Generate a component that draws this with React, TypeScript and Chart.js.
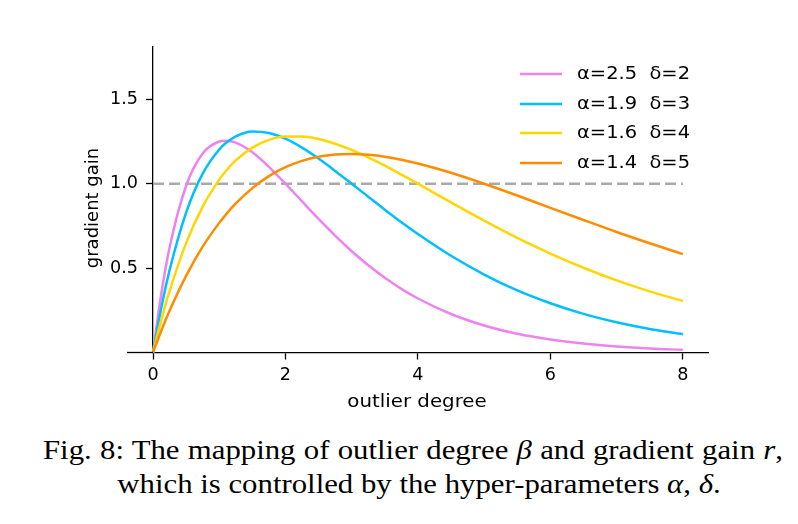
import React, { useEffect, useRef } from "react";
import { Chart, registerables } from "chart.js";

Chart.register(...registerables);

// outlier degree (x)
const betaValues = [0, 0.125, 0.25, 0.5, 0.75, 1, 1.1, 1.25, 1.5, 1.75, 2, 2.25, 2.5, 2.75, 3, 3.25, 3.5, 3.75, 4, 4.5, 5, 5.5, 6, 6.5, 7, 7.5, 8];
// gradient gain for each (alpha, delta)
const gainA25D2 = [0, 0.348, 0.621, 0.988, 1.179, 1.25, 1.255, 1.243, 1.186, 1.1, 1.0, 0.895, 0.791, 0.692, 0.6, 0.517, 0.443, 0.377, 0.32, 0.228, 0.16, 0.111, 0.077, 0.053, 0.036, 0.024, 0.016];
const gainA19D3 = [0, 0.264, 0.487, 0.829, 1.06, 1.203, 1.241, 1.281, 1.31, 1.301, 1.267, 1.214, 1.149, 1.076, 1.0, 0.923, 0.846, 0.772, 0.702, 0.573, 0.462, 0.368, 0.292, 0.229, 0.179, 0.139, 0.108];
const gainA16D4 = [0, 0.193, 0.364, 0.648, 0.864, 1.024, 1.075, 1.138, 1.214, 1.26, 1.28, 1.28, 1.265, 1.237, 1.2, 1.156, 1.107, 1.054, 1.0, 0.889, 0.781, 0.679, 0.586, 0.502, 0.427, 0.362, 0.305];
const gainA14D5 = [0, 0.129, 0.247, 0.454, 0.627, 0.768, 0.817, 0.883, 0.974, 1.045, 1.098, 1.135, 1.16, 1.173, 1.176, 1.171, 1.16, 1.142, 1.12, 1.065, 1.0, 0.93, 0.857, 0.785, 0.714, 0.647, 0.583];
const seriesLabels = ["α=2.5  δ=2", "α=1.9  δ=3", "α=1.6  δ=4", "α=1.4  δ=5"];
const seriesColors = ["#EE82EE", "#00BFFF", "#FFD700", "#FF8C00"];
const referenceLine = [1.0, 1.0];
const referenceX = [0, 8];
const xTicks = [0, 2, 4, 6, 8];
const yTicks = [0.5, 1.0, 1.5];
const xTitle = "outlier degree";
const yTitle = "gradient gain";

const FONT = '"DejaVu Sans"';
const STRETCH = 1.1;

function stretchedText(ctx: any, text: string, x: number, y: number, align: string) {
  ctx.save();
  ctx.translate(x, y);
  ctx.scale(STRETCH, 1);
  ctx.textAlign = align;
  ctx.fillText(text, 0, 0);
  ctx.restore();
}

const overlayPlugin = {
  id: "overlay",
  afterDraw(chart: any) {
    const ctx = chart.ctx;
    const area = chart.chartArea;
    // extend x axis spine to the left of the y axis
    ctx.save();
    ctx.strokeStyle = "#000";
    ctx.lineWidth = 1.3;
    ctx.beginPath();
    ctx.moveTo(127, area.bottom);
    ctx.lineTo(area.left, area.bottom);
    ctx.stroke();
    ctx.restore();

    // y axis title
    ctx.save();
    ctx.font = `18px ${FONT}`;
    ctx.fillStyle = "#000";
    ctx.translate(93, 208);
    ctx.rotate(-Math.PI / 2);
    ctx.textAlign = "center";
    ctx.textBaseline = "middle";
    ctx.fillText(yTitle, 0, 0);
    ctx.restore();

    // x axis title
    ctx.save();
    ctx.font = `18px ${FONT}`;
    ctx.fillStyle = "#000";
    ctx.textBaseline = "middle";
    stretchedText(ctx, xTitle, 417, 402, "center");
    ctx.restore();

    // legend
    ctx.save();
    ctx.font = `17.7px ${FONT}`;
    ctx.textBaseline = "middle";
    const rows = [74, 104, 133, 163];
    chart.data.datasets.forEach((ds: any, i: number) => {
      if (ds.isRef) return;
      const y = rows[i];
      ctx.strokeStyle = ds.borderColor;
      ctx.lineWidth = 2.5;
      ctx.beginPath();
      ctx.moveTo(520, y);
      ctx.lineTo(562, y);
      ctx.stroke();
      ctx.fillStyle = "#000";
      stretchedText(ctx, ds.label, 577, y, "left");
    });
    ctx.restore();
  },
};

export default function App() {
  const ref = useRef<HTMLCanvasElement | null>(null);
  useEffect(() => {
    if (!ref.current) return;
    const curves = [gainA25D2, gainA19D3, gainA16D4, gainA14D5];
    const datasets: any[] = curves.map((vals, i) => ({
      label: seriesLabels[i],
      data: betaValues.map((b, j) => ({ x: b, y: vals[j] })),
      borderColor: seriesColors[i],
      backgroundColor: seriesColors[i],
      borderWidth: 2.5,
      pointRadius: 0,
      fill: false,
      cubicInterpolationMode: "monotone",
      order: 4 - i,
    }));
    datasets.push({
      label: "ref",
      isRef: true,
      data: referenceX.map((x, j) => ({ x, y: referenceLine[j] })),
      borderColor: "#AAAAAA",
      borderWidth: 2.5,
      borderDash: [11, 5],
      pointRadius: 0,
      fill: false,
      order: 10,
    });
    const chart = new Chart(ref.current, {
      type: "line",
      data: { datasets },
      plugins: [overlayPlugin],
      options: {
        animation: false,
        responsive: false,
        clip: false,
        layout: { padding: { left: 0, right: 90, top: 47, bottom: 0 } },
        plugins: { legend: { display: false }, tooltip: { enabled: false } },
        scales: {
          x: {
            type: "linear",
            position: "bottom",
            min: 0,
            max: 8.38,
            afterBuildTicks: (s: any) => {
              s.ticks = xTicks.map((v) => ({ value: v }));
            },
            afterFit: (s: any) => {
              s.height = 77.5;
            },
            ticks: {
              color: "#000",
              font: { family: FONT, size: 17.6 },
              padding: 5,
              maxRotation: 0,
              autoSkip: false,
              callback: (v: any) => String(v),
            },
            grid: { drawOnChartArea: false, drawTicks: true, tickLength: 7, color: "#000", tickWidth: 1.3 },
            border: { display: true, color: "#000", width: 1.3 },
          },
          y: {
            type: "linear",
            position: "left",
            min: 0,
            max: 1.81,
            afterBuildTicks: (s: any) => {
              s.ticks = yTicks.map((v) => ({ value: v }));
            },
            afterFit: (s: any) => {
              s.width = 153;
            },
            ticks: {
              color: "#000",
              font: { family: FONT, size: 17.6 },
              padding: 8,
              autoSkip: false,
              callback: (v: any) => Number(v).toFixed(1),
            },
            grid: { drawOnChartArea: false, drawTicks: true, tickLength: 7, color: "#000", tickWidth: 1.3 },
            border: { display: true, color: "#000", width: 1.3 },
          },
        },
      } as any,
    });
    return () => chart.destroy();
  }, []);

  const serif = '"Liberation Serif", "Times New Roman", serif';
  const capScale = 1.14;
  return (
    <div style={{ position: "absolute", left: 0, top: 0, width: 798, height: 524, background: "#fff" }}>
      <canvas ref={ref} width={798} height={430} style={{ position: "absolute", left: 0, top: 0, width: 798, height: 430 }} />
      <div
        style={{
          position: "absolute",
          left: 43,
          top: 433,
          width: 740 / capScale,
          transform: `scaleX(${capScale})`,
          transformOrigin: "0 0",
          fontFamily: serif,
          fontSize: 27,
          lineHeight: "34px",
          textAlign: "justify",
          textAlignLast: "justify" as any,
          whiteSpace: "nowrap",
          color: "#000",
        }}
      >
        Fig. 8: The mapping of outlier degree <i>β</i> and gradient gain <i>r</i>,
      </div>
      <div
        style={{
          position: "absolute",
          left: 418.5,
          top: 467,
          transform: `translateX(-50%) scaleX(${capScale})`,
          fontFamily: serif,
          fontSize: 27,
          lineHeight: "34px",
          whiteSpace: "nowrap",
          color: "#000",
        }}
      >
        which is controlled by the hyper-parameters <i>α</i>, <i>δ</i>.
      </div>
    </div>
  );
}
